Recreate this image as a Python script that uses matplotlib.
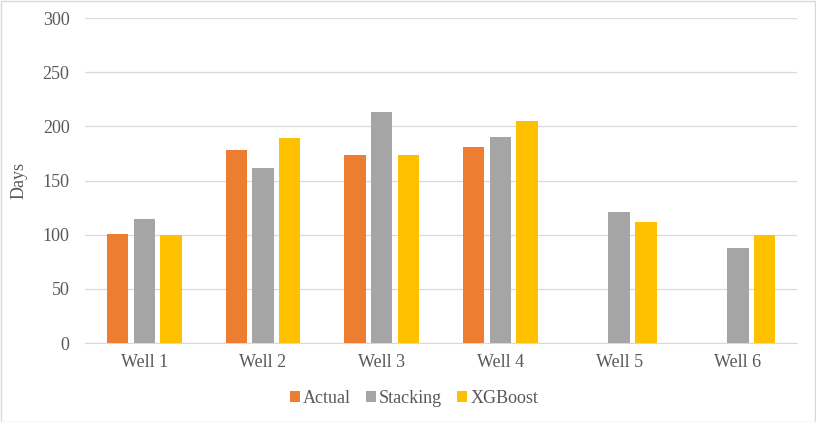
import numpy as np
import matplotlib
matplotlib.use("Agg")
import matplotlib.pyplot as plt
from matplotlib.patches import Rectangle

wells = ["Well 1", "Well 2", "Well 3", "Well 4", "Well 5", "Well 6"]
actual = [101, 178, 174, 181, np.nan, np.nan]
stacking = [115, 162, 213, 190, 121, 88]
xgboost = [100, 189, 174, 205, 112, 100]

plt.rcParams['font.family'] = ['Liberation Serif', 'DejaVu Serif']
txt = "#595959"

fig = plt.figure(figsize=(8.16, 4.22), dpi=100)
ax = fig.add_axes([0.104, 0.187, 0.873, 0.770])

x = np.arange(len(wells))
w = 0.18
step = 0.225
ax.bar(x - step, actual, w, color="#ED7D31", label="Actual", zorder=3)
ax.bar(x, stacking, w, color="#A5A5A5", label="Stacking", zorder=3)
ax.bar(x + step, xgboost, w, color="#FFC000", label="XGBoost", zorder=3)

ax.set_xlim(-0.5, len(wells) - 0.5)
ax.set_ylim(0, 300)
ax.set_yticks(range(0, 301, 50))
ax.set_xticks(x)
ax.set_xticklabels(wells)
ax.grid(axis="y", color="#D9D9D9", lw=0.9, zorder=0)
for s in ["top", "right", "left"]:
    ax.spines[s].set_visible(False)
ax.spines["bottom"].set_color("#D9D9D9")
ax.tick_params(axis="both", length=0, colors=txt, labelsize=13)
ax.tick_params(axis="y", pad=11)
ax.tick_params(axis="x", pad=8)
ax.set_ylabel("Days", color=txt, fontsize=13, labelpad=11)

ax.legend(loc="center", bbox_to_anchor=(0.462, -0.17), ncol=3, frameon=False,
          fontsize=13, labelcolor=txt, handlelength=0.55, handleheight=0.55,
          handletextpad=0.2, columnspacing=0.8)

fig.patches.append(Rectangle((0.001, 0.001), 0.998, 0.997, transform=fig.transFigure,
                             fill=False, edgecolor="#D9D9D9", lw=1))

fig.savefig("out.png", dpi=100)
